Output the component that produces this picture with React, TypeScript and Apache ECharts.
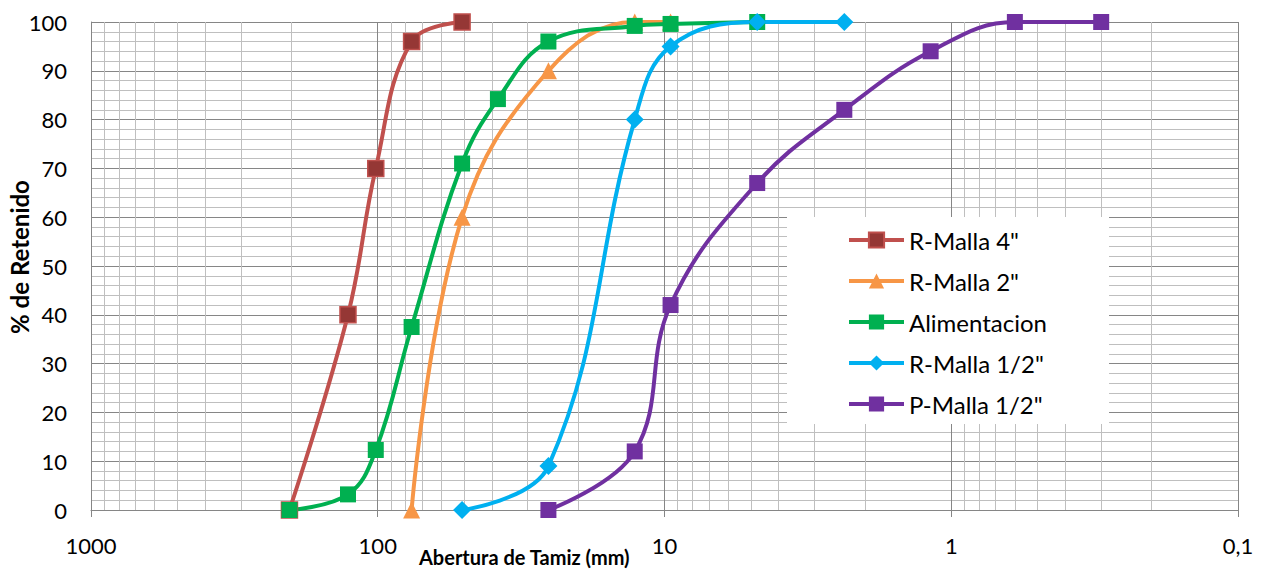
import React, { useEffect, useRef } from "react";
import * as echarts from "echarts";

const seriesNames = ["R-Malla 4\"", "R-Malla 2\"", "Alimentacion", "R-Malla 1/2\"", "P-Malla 1/2\""];

const rMalla4: [number, number][] = [[203.2, 0], [127, 40], [101.6, 70], [76.2, 96], [50.8, 100]];
const rMalla2: [number, number][] = [[76.2, 0], [50.8, 60], [25.4, 90], [12.7, 100], [9.525, 100]];
const alimentacion: [number, number][] = [
  [203.2, 0], [127, 3.2], [101.6, 12.3], [76.2, 37.5], [50.8, 71], [38.1, 84.2],
  [25.4, 96], [12.7, 99.2], [9.525, 99.6], [4.75, 100],
];
const rMalla12: [number, number][] = [[50.8, 0], [25.4, 9], [12.7, 80], [9.525, 95], [4.75, 100], [2.36, 100]];
const pMalla12: [number, number][] = [
  [25.4, 0], [12.7, 12], [9.525, 42], [4.75, 67], [2.36, 82], [1.18, 94], [0.6, 100], [0.3, 100],
];

const decades = [0.1, 1, 10, 100];
const minorSteps = [2, 3, 4, 5, 6, 7, 8, 9];

const FONT = "Lato, 'Noto Sans', sans-serif";

export default function App() {
  const ref = useRef<HTMLDivElement>(null);
  useEffect(() => {
    if (!ref.current) return;
    const chart = echarts.init(ref.current, undefined, { renderer: "svg" });
    const minorX: number[] = [];
    decades.forEach((d) => minorSteps.forEach((s) => minorX.push(Number((d * s).toPrecision(6)))));

    const mk = (
      name: string,
      data: [number, number][],
      line: string,
      fill: string,
      symbol: string,
      size: number,
      border?: string
    ) => ({
      name,
      type: "line",
      data,
      smooth: 0.4,
      symbol,
      symbolSize: size,
      showSymbol: true,
      lineStyle: { color: line, width: 4 },
      itemStyle: { color: fill, borderColor: border || fill, borderWidth: border ? 1.5 : 0 },
      emphasis: { disabled: true },
      z: 2,
    });

    chart.setOption({
      animation: false,
      textStyle: { fontFamily: FONT },
      title: {
        text: "Abertura de Tamiz (mm)",
        left: 419,
        top: 547,
        padding: 0,
        textStyle: { fontSize: 20, fontWeight: "bold", color: "#000", fontFamily: FONT },
      },
      graphic: [
        {
          type: "text",
          x: 19,
          y: 257,
          rotation: Math.PI / 2,
          silent: true,
          style: {
            text: "% de Retenido",
            fill: "#000",
            font: `bold 24px ${FONT}`,
            textAlign: "center",
            textVerticalAlign: "middle",
          },
        },
      ],
      grid: { left: 91, right: 33, top: 22, bottom: 64, containLabel: false, outerBoundsMode: "none" },
      legend: {
        data: seriesNames,
        orient: "vertical",
        left: 787,
        top: 217,
        backgroundColor: "#fff",
        padding: [11, 62, 8, 60],
        itemGap: 17,
        itemWidth: 55,
        itemHeight: 19,
        lineStyle: { width: 4 },
        textStyle: { fontSize: 24, color: "#000", fontFamily: FONT },
      },
      xAxis: {
        type: "log",
        logBase: 10,
        min: 0.1,
        max: 1000,
        inverse: true,
        axisLine: { show: true, lineStyle: { color: "#868686", width: 1 } },
        axisTick: { show: true, length: 7, lineStyle: { color: "#868686" } },
        axisLabel: {
          fontSize: 22,
          color: "#000",
          margin: 24,
          fontFamily: FONT,
          formatter: (v: number) => String(Number(v.toPrecision(6))).replace(".", ","),
        },
        splitLine: { show: true, lineStyle: { color: "#868686", width: 1 } },
      },
      yAxis: {
        type: "value",
        min: 0,
        max: 100,
        interval: 10,
        axisLine: { show: true, lineStyle: { color: "#868686" } },
        axisTick: { show: false },
        axisLabel: { fontSize: 22, color: "#000", margin: 24, fontFamily: FONT },
        splitLine: { show: true, lineStyle: { color: "#868686", width: 1 } },
        minorTick: { show: false, splitNumber: 5 },
        minorSplitLine: { show: true, lineStyle: { color: "#BFBFBF", width: 1 } },
      },
      series: [
        {
          ...mk(seriesNames[0], rMalla4, "#C0504D", "#953735", "rect", 16, "#C0504D"),
          markLine: {
            silent: true,
            z: 1,
            symbol: "none",
            label: { show: false },
            lineStyle: { color: "#BFBFBF", width: 1, type: "solid" },
            emphasis: { disabled: true },
            data: minorX.map((x) => ({ xAxis: x })),
          },
        },
        mk(seriesNames[1], rMalla2, "#F79646", "#F79646", "triangle", 17),
        mk(seriesNames[2], alimentacion, "#00B050", "#00B050", "rect", 16),
        mk(seriesNames[3], rMalla12, "#00B0F0", "#00B0F0", "diamond", 18),
        mk(seriesNames[4], pMalla12, "#7030A0", "#7030A0", "rect", 16),
      ],
    });
    return () => chart.dispose();
  }, []);
  return (
    <div
      ref={ref}
      style={{ position: "absolute", left: 0, top: 0, width: 1271, height: 574, background: "#fff" }}
    />
  );
}
